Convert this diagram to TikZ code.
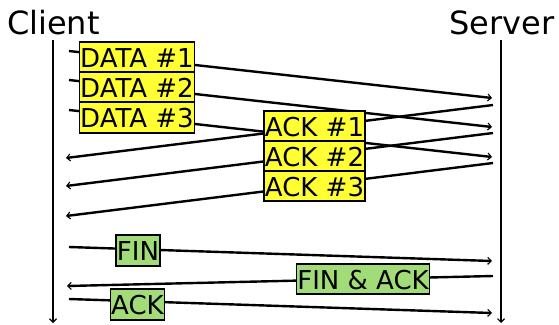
\documentclass[tikz,border=0pt]{standalone}
\usepackage{fontspec}
\setmainfont{DejaVu Sans}
\usetikzlibrary{arrows.meta}
\definecolor{msgyellow}{RGB}{255,255,51}
\definecolor{msggreen}{RGB}{161,220,120}
\tikzset{
  lifeline/.style={line width=2.6pt,-{Straight Barb[length=3.5pt,width=7pt,line width=1.1pt]}},
  msg/.style={line width=2.4pt,-{Straight Barb[length=3.5pt,width=7pt,line width=1.1pt]}},
  head/.style={font=\fontsize{32}{36}\selectfont,anchor=base,inner sep=0pt},
  label/.style={draw=black,line width=1.8pt,font=\fontsize{26}{28}\selectfont,
    inner xsep=0.8pt,inner ysep=0.5pt,text height=25pt,text depth=4.5pt},
  datalbl/.style={label,fill=msgyellow},
  finlbl/.style={label,fill=msggreen}
}
\begin{document}
\begin{tikzpicture}[x=1pt,y=-1pt]
\useasboundingbox (0,0) rectangle (559,324);

% participants
\node[head] (client) at (53.5,34) {Client};
\node[head] (server) at (502,34) {Server};
\coordinate (cTop) at (53,40);  \coordinate (cBot) at (53,323);
\coordinate (sTop) at (501,40); \coordinate (sBot) at (501,323);
\draw[lifeline] (cTop) -- (cBot);
\draw[lifeline] (sTop) -- (sBot);

% message end points
\coordinate (d1a) at (69,51);   \coordinate (d1b) at (492,98);
\coordinate (d2a) at (69,80);   \coordinate (d2b) at (492,127);
\coordinate (d3a) at (69,110);  \coordinate (d3b) at (492,157);
\coordinate (a1a) at (493,105); \coordinate (a1b) at (66,158);
\coordinate (a2a) at (493,133); \coordinate (a2b) at (66,186);
\coordinate (a3a) at (493,163); \coordinate (a3b) at (66,216);
\coordinate (fa)  at (69,247);  \coordinate (fb)  at (492,261);
\coordinate (faa) at (493,276); \coordinate (fab) at (67,286);
\coordinate (ka)  at (69,299);  \coordinate (kb)  at (492,313);

% data segments
\draw[msg] (d1a) -- (d1b);
\draw[msg] (d2a) -- (d2b);
\draw[msg] (d3a) -- (d3b);
% acknowledgements
\draw[msg] (a1a) -- (a1b);
\draw[msg] (a2a) -- (a2b);
\draw[msg] (a3a) -- (a3b);
% connection teardown
\draw[msg] (fa) -- (fb);
\draw[msg] (faa) -- (fab);
\draw[msg] (ka) -- (kb);

% labels sit on top of the lines
\node[datalbl] (data1) at (137,57.5)  {DATA \#1};
\node[datalbl] (data2) at (137,87.5)  {DATA \#2};
\node[datalbl] (data3) at (137,117.5) {DATA \#3};
\node[datalbl] (ack1) at (314.5,126) {ACK \#1};
\node[datalbl] (ack2) at (314.5,156) {ACK \#2};
\node[datalbl] (ack3) at (314.5,186) {ACK \#3};
\node[finlbl] (fin)    at (138,250.5) {FIN};
\node[finlbl] (finack) at (363,279)   {FIN \& ACK};
\node[finlbl] (ack)    at (137.5,304.5) {ACK};
\end{tikzpicture}
\end{document}
